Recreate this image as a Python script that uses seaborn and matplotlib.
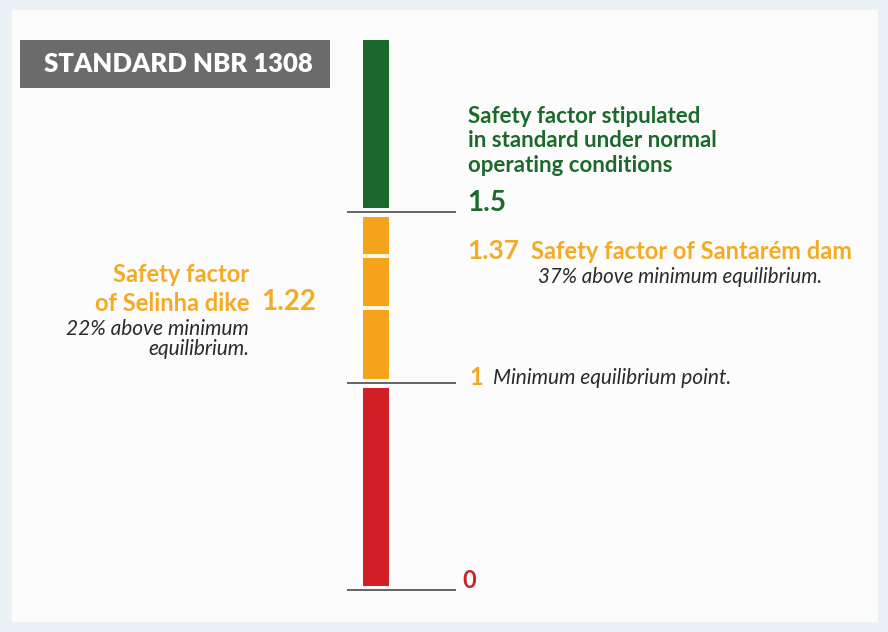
import numpy as np
import matplotlib.pyplot as plt
import seaborn as sns
from matplotlib.patches import Rectangle

# === DATA ===
ZONE_START = [0.0, 1.0, 1.5]
ZONE_END = [1.0, 1.5, 2.0]
ZONE_COLORS = ['#d21f26', '#f5a31a', '#1b6a2b']
REFERENCE_LEVELS = [0.0, 1.0, 1.5]
DAM_MARKS = [1.22, 1.37]

LEVEL_LABELS = ['0', '1', '1.5']
LEVEL_COLORS = ['#c8262c', '#f2a91f', '#1b6a2b']
# === END DATA ===

W, H = 888, 632
DPI = 100
GREEN = '#1b6a2b'
ORANGE = '#f3ab24'
DARK = '#2a2a2a'

# piecewise scale: value -> pixel height above figure bottom
KNOT_V = [-1.0, 0.0, 1.0, 1.5, 2.0, 3.0]
KNOT_P = [-167, 42, 249, 420, 592, 934]


def fwd(v):
    return np.interp(v, KNOT_V, KNOT_P)


def inv(p):
    return np.interp(p, KNOT_P, KNOT_V)


sns.set_theme(style='white')
plt.rcParams['font.family'] = ['Lato', 'DejaVu Sans']

fig = plt.figure(figsize=(W / DPI, H / DPI), dpi=DPI)
fig.patch.set_facecolor('#eaf2f6')
fig.patches.append(Rectangle((12 / W, 10 / H), 866 / W, 612 / H,
                             transform=fig.transFigure, facecolor='#fcfcfc',
                             edgecolor='none', zorder=-2))
fig.patches.append(Rectangle((20 / W, (H - 88) / H), 310 / W, 48 / H,
                             transform=fig.transFigure, facecolor='#6b6b6b',
                             edgecolor='none', zorder=-1))

ax = fig.add_axes([0, 0, 1, 1])
ax.patch.set_alpha(0)
ax.set_yscale('function', functions=(fwd, inv))
ax.set_xlim(0, W)
ax.set_ylim(inv(0), inv(H))
ax.axis('off')

# stacked scale bar
BAR_X, BAR_W = 376, 26
for s, e, c in zip(ZONE_START, ZONE_END, ZONE_COLORS):
    ax.bar(BAR_X, e - s, bottom=s, width=BAR_W, color=c, edgecolor='none', zorder=2)

# white gaps + reference lines
for lv in REFERENCE_LEVELS:
    ax.hlines(lv, BAR_X - BAR_W, BAR_X + BAR_W, color='#fcfcfc', lw=6.5, zorder=3)
    ax.hlines(lv, 347, 456, color='#4a4a4a', lw=1.2, zorder=4)
for m in DAM_MARKS:
    ax.hlines(m, BAR_X - BAR_W / 2 - 1, BAR_X + BAR_W / 2 + 1, color='#fdfbe8', lw=2.8, zorder=3)

# header
fig.text(44 / W, (H - 64) / H, 'STANDARD NBR 1308', color='white',
         fontsize=18.5, fontweight='heavy', va='center', ha='left')

# level numbers
off = {'0': (462, 10), '1': (469, 5), '1.5': (467, 9)}
sizes = {'0': 17, '1': 17, '1.5': 20}
for lv, lab, col in zip(REFERENCE_LEVELS, LEVEL_LABELS, LEVEL_COLORS):
    x, dy = off[lab]
    ax.annotate(lab, xy=(x, lv), xytext=(0, dy), textcoords='offset pixels',
                color=col, fontsize=sizes[lab], fontweight='bold', va='center', ha='left')

# green note above 1.5
ax.annotate('Safety factor stipulated\nin standard under normal\noperating conditions',
            xy=(468, 1.5), xytext=(0, 71), textcoords='offset pixels',
            color=GREEN, fontsize=16, fontweight='bold', va='center', ha='left',
            linespacing=1.22)

# Santarém dam 1.37
ax.annotate('1.37', xy=(467, DAM_MARKS[1]), xytext=(0, 5), textcoords='offset pixels',
            color=ORANGE, fontsize=19, fontweight='bold', va='center', ha='left')
ax.annotate('Safety factor of Santarém dam', xy=(531, DAM_MARKS[1]), xytext=(0, 5),
            textcoords='offset pixels', color=ORANGE, fontsize=17,
            fontweight='bold', va='center', ha='left')
ax.annotate('37% above minimum equilibrium.', xy=(822, DAM_MARKS[1]), xytext=(0, -21),
            textcoords='offset pixels', color=DARK, fontsize=14.8,
            style='italic', va='center', ha='right')

# Selinha dike 1.22
ax.annotate('1.22', xy=(261, DAM_MARKS[0]), xytext=(0, 6), textcoords='offset pixels',
            color=ORANGE, fontsize=20, fontweight='bold', va='center', ha='left')
ax.annotate('Safety factor\nof Selinha dike', xy=(249, DAM_MARKS[0]), xytext=(0, 19),
            textcoords='offset pixels', color=ORANGE, fontsize=17,
            fontweight='bold', va='center', ha='right', linespacing=1.3)
ax.annotate('22% above minimum\nequilibrium.', xy=(249, DAM_MARKS[0]), xytext=(0, -31),
            textcoords='offset pixels', color=DARK, fontsize=15,
            style='italic', va='center', ha='right', linespacing=1.0)

# minimum equilibrium
ax.annotate('Minimum equilibrium point.', xy=(493, 1.0), xytext=(0, 5),
            textcoords='offset pixels', color=DARK, fontsize=15,
            style='italic', va='center', ha='left')

fig.savefig('out.png', dpi=DPI, facecolor=fig.get_facecolor())
